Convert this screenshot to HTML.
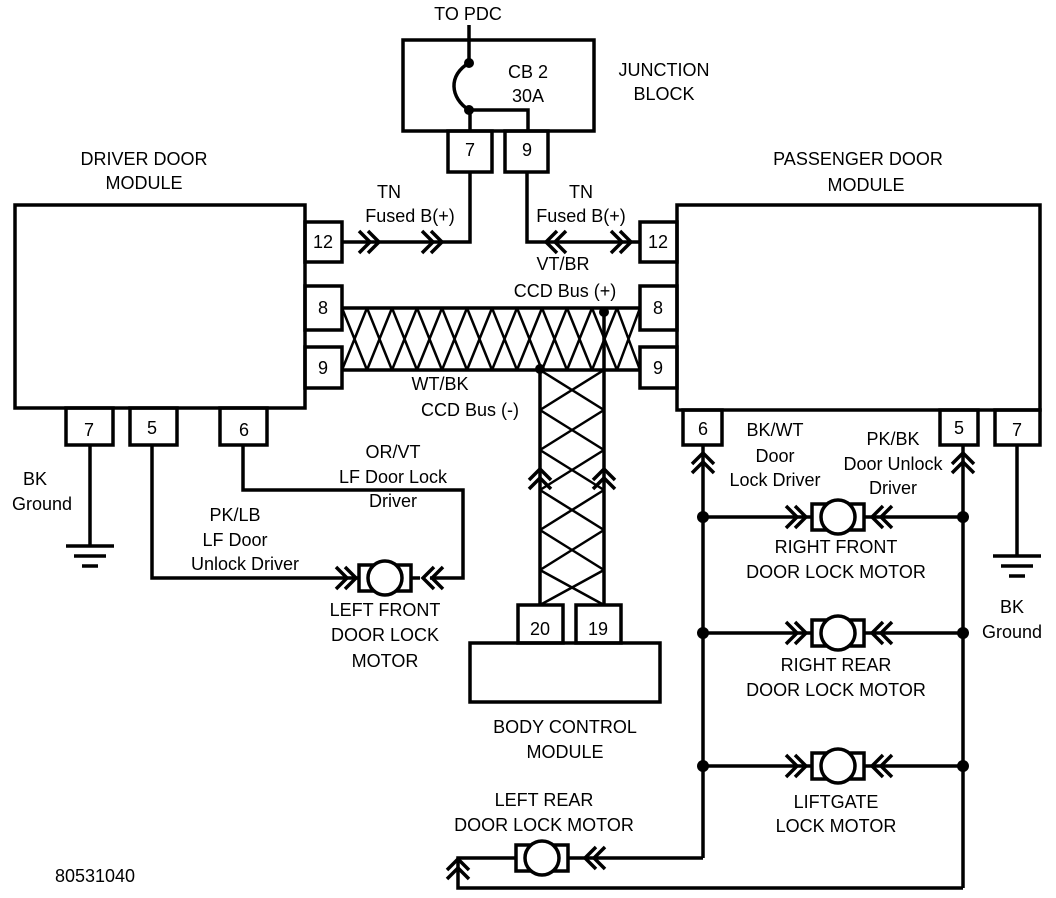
<!DOCTYPE html>
<html><head><meta charset="utf-8"><style>
html,body{margin:0;padding:0;background:#fff;}
svg{display:block;}
text{font-family:"Liberation Sans",sans-serif;font-size:18px;fill:#000;}
</style></head><body>
<svg width="1056" height="898" viewBox="0 0 1056 898" xmlns="http://www.w3.org/2000/svg">
<defs>
<g id="chr"><polyline points="-11,-11 0,0 -11,11" fill="none" stroke="#000" stroke-width="3.5"/><polyline points="-2,-11 9,0 -2,11" fill="none" stroke="#000" stroke-width="3.5"/></g>
<g id="motor"><rect x="-26" y="-13" width="52" height="26" fill="#fff" stroke="#000" stroke-width="3.5"/><circle cx="0" cy="0" r="17" fill="#fff" stroke="#000" stroke-width="3.5"/></g>
</defs>
<g fill="none" stroke="#000" stroke-width="3.5">
<rect x="15" y="205" width="290" height="203"/>
<rect x="305" y="222" width="37" height="40"/>
<rect x="305" y="286" width="37" height="44"/>
<rect x="305" y="347" width="37" height="41"/>
<rect x="66" y="408" width="47" height="37"/>
<rect x="130" y="408" width="47" height="37"/>
<rect x="220" y="408" width="47" height="37"/>
<rect x="403" y="40" width="191" height="91"/>
<rect x="448" y="131" width="44" height="41"/>
<rect x="505" y="131" width="43" height="41"/>
<line x1="469" y1="25" x2="469" y2="63"/>
<path d="M469,63 C448,75 450,98 469,110"/>
<polyline points="470,131 470,110 528,110 528,131"/>
<rect x="677" y="205" width="363" height="205"/>
<rect x="640" y="222" width="37" height="40"/>
<rect x="640" y="286" width="37" height="44"/>
<rect x="640" y="347" width="37" height="41"/>
<rect x="683" y="410" width="39" height="35"/>
<rect x="940" y="410" width="38" height="35"/>
<rect x="995" y="410" width="45" height="35"/>
<rect x="470" y="643" width="190" height="59"/>
<rect x="518" y="605" width="45" height="38"/>
<rect x="576" y="605" width="45" height="38"/>
<polyline points="342,242 470,242 470,172"/>
<polyline points="527,172 527,242 640,242"/>
<line x1="342" y1="308" x2="640" y2="308"/>
<line x1="342" y1="370" x2="640" y2="370"/>
<line x1="540" y1="370" x2="540" y2="605"/>
<line x1="604" y1="312" x2="604" y2="605"/>
</g>
<g stroke="#000" stroke-width="2.5" fill="none">
<path d="M342,308 L367,370 M367,308 L342,370 M367,308 L392,370 M392,308 L367,370 M392,308 L417,370 M417,308 L392,370 M417,308 L442,370 M442,308 L417,370 M442,308 L467,370 M467,308 L442,370 M467,308 L492,370 M492,308 L467,370 M492,308 L517,370 M517,308 L492,370 M517,308 L542,370 M542,308 L517,370 M542,308 L567,370 M567,308 L542,370 M567,308 L592,370 M592,308 L567,370 M592,308 L617,370 M617,308 L592,370 M617,308 L640,370 M640,308 L617,370"/>
<path d="M540,370 L604,410 M604,370 L540,410 M540,410 L604,450 M604,410 L540,450 M540,450 L604,490 M604,450 L540,490 M540,490 L604,530 M604,490 L540,530 M540,530 L604,570 M604,530 L540,570 M540,570 L604,605 M604,570 L540,605"/>
</g>
<g fill="#000"><circle cx="469" cy="63" r="5"/><circle cx="469" cy="110" r="5"/><circle cx="540" cy="369" r="5"/><circle cx="604" cy="312" r="5"/></g>
<use href="#chr" x="370" y="242"/><use href="#chr" x="433" y="242"/>
<use href="#chr" transform="translate(555,242) rotate(180)"/>
<use href="#chr" x="622" y="242"/>
<use href="#chr" transform="translate(540,478) rotate(-90)"/>
<use href="#chr" transform="translate(604,478) rotate(-90)"/>
<g fill="none" stroke="#000" stroke-width="3.5">
<line x1="90" y1="445" x2="90" y2="545"/>
<line x1="66" y1="546" x2="114" y2="546"/><line x1="74" y1="556" x2="106" y2="556"/><line x1="82" y1="566" x2="98" y2="566"/>
<polyline points="152,445 152,578 345,578"/>
<polyline points="243,445 243,490 463,490 463,578 430,578"/>
<line x1="345" y1="578" x2="420" y2="578"/>
</g>
<use href="#chr" x="347" y="578"/>
<use href="#chr" transform="translate(432,578) rotate(180)"/>
<use href="#motor" x="385" y="578"/>
<g fill="none" stroke="#000" stroke-width="3.5">
<line x1="703" y1="445" x2="703" y2="858"/>
<line x1="963" y1="445" x2="963" y2="888"/>
<line x1="1017" y1="445" x2="1017" y2="555"/>
<line x1="993" y1="556" x2="1041" y2="556"/><line x1="1001" y1="566" x2="1033" y2="566"/><line x1="1009" y1="576" x2="1025" y2="576"/>
<line x1="703" y1="517" x2="963" y2="517"/>
<line x1="703" y1="633" x2="963" y2="633"/>
<line x1="703" y1="766" x2="963" y2="766"/>
<polyline points="703,858 458,858 458,888 963,888"/>
</g>
<g fill="#000"><circle cx="703" cy="517" r="6"/><circle cx="963" cy="517" r="6"/><circle cx="703" cy="633" r="6"/><circle cx="963" cy="633" r="6"/><circle cx="703" cy="766" r="6"/><circle cx="963" cy="766" r="6"/></g>
<use href="#chr" transform="translate(703,462) rotate(-90)"/>
<use href="#chr" transform="translate(963,462) rotate(-90)"/>
<use href="#chr" x="797" y="517"/><use href="#chr" transform="translate(881,517) rotate(180)"/><use href="#motor" x="838" y="517"/>
<use href="#chr" x="797" y="633"/><use href="#chr" transform="translate(881,633) rotate(180)"/><use href="#motor" x="838" y="633"/>
<use href="#chr" x="797" y="766"/><use href="#chr" transform="translate(881,766) rotate(180)"/><use href="#motor" x="838" y="766"/>
<use href="#chr" transform="translate(594,858) rotate(180)"/><use href="#motor" x="542" y="858"/>
<use href="#chr" transform="translate(458,868) rotate(-90)"/>
<g text-anchor="middle">
<text x="468" y="20">TO PDC</text>
<text x="528" y="78">CB 2</text><text x="528" y="102">30A</text>
<text x="664" y="76">JUNCTION</text><text x="664" y="100">BLOCK</text>
<text x="470" y="156">7</text><text x="527" y="156">9</text>
<text x="144" y="165">DRIVER DOOR</text><text x="144" y="189">MODULE</text>
<text x="858" y="165">PASSENGER DOOR</text><text x="866" y="191">MODULE</text>
<text x="323" y="248">12</text><text x="323" y="314">8</text><text x="323" y="374">9</text>
<text x="658" y="248">12</text><text x="658" y="314">8</text><text x="658" y="374">9</text>
<text x="389" y="198">TN</text><text x="410" y="222">Fused B(+)</text>
<text x="581" y="198">TN</text><text x="581" y="222">Fused B(+)</text>
<text x="563" y="270">VT/BR</text><text x="565" y="297">CCD Bus (+)</text>
<text x="440" y="390">WT/BK</text><text x="470" y="416">CCD Bus (-)</text>
<text x="89" y="436">7</text><text x="152" y="434">5</text><text x="244" y="436">6</text>
<text x="703" y="435">6</text><text x="959" y="434">5</text><text x="1017" y="436">7</text>
<text x="35" y="485">BK</text><text x="42" y="510">Ground</text>
<text x="393" y="458">OR/VT</text><text x="393" y="483">LF Door Lock</text><text x="393" y="507">Driver</text>
<text x="235" y="521">PK/LB</text><text x="235" y="546">LF Door</text><text x="245" y="570">Unlock Driver</text>
<text x="385" y="616">LEFT FRONT</text><text x="385" y="641">DOOR LOCK</text><text x="385" y="667">MOTOR</text>
<text x="540" y="635">20</text><text x="598" y="635">19</text>
<text x="565" y="733">BODY CONTROL</text><text x="565" y="758">MODULE</text>
<text x="775" y="436">BK/WT</text><text x="775" y="462">Door</text><text x="775" y="486">Lock Driver</text>
<text x="893" y="445">PK/BK</text><text x="893" y="470">Door Unlock</text><text x="893" y="494">Driver</text>
<text x="836" y="553">RIGHT FRONT</text><text x="836" y="578">DOOR LOCK MOTOR</text>
<text x="836" y="671">RIGHT REAR</text><text x="836" y="696">DOOR LOCK MOTOR</text>
<text x="836" y="808">LIFTGATE</text><text x="836" y="832">LOCK MOTOR</text>
<text x="1012" y="613">BK</text><text x="1012" y="638">Ground</text>
<text x="544" y="806">LEFT REAR</text><text x="544" y="831">DOOR LOCK MOTOR</text>
<text x="95" y="882">80531040</text>
</g>
</svg>
</body></html>
